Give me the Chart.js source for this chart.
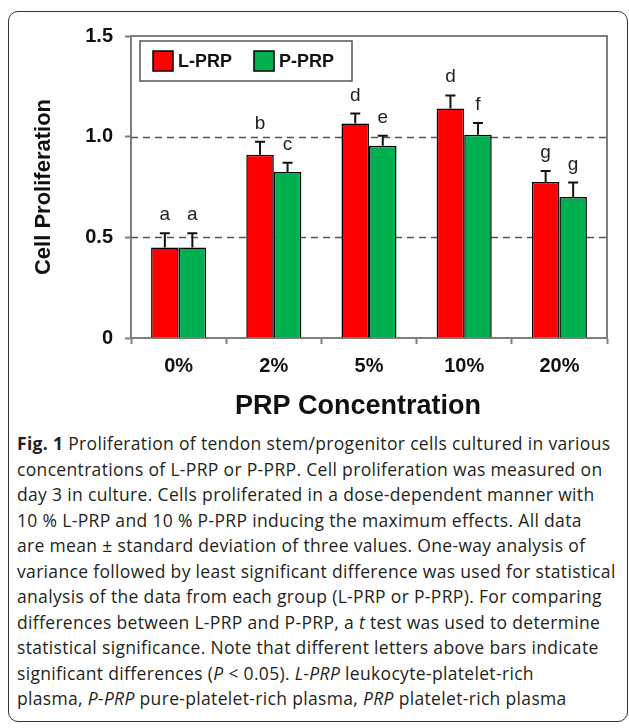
<!DOCTYPE html>
<html>
<head>
<meta charset="utf-8">
<script src="https://cdn.jsdelivr.net/npm/chart.js@4.4.0/dist/chart.umd.min.js"></script>
<style>
  html, body { margin: 0; padding: 0; background: #fff; }
  body { width: 629px; height: 728px; position: relative; overflow: hidden; }
  #frame {
    position: absolute; left: 8px; top: 11px; width: 620px; height: 711px;
    border: 1.5px solid #333; border-radius: 10px; box-sizing: border-box;
  }
  #chartBox { position: absolute; left: 0; top: 0; width: 629px; height: 420px; }
  #caption {
    position: absolute; left: 17px; top: 431px;
    font-family: "Open Sans", sans-serif; font-size: 17.5px; line-height: 25.5px;
    letter-spacing: 0.33px; color: #231f20; white-space: nowrap;
  }
  #caption b { font-weight: 700; }
</style>
</head>
<body>
<div id="frame"></div>
<div id="chartBox"><canvas id="cellChart" width="629" height="420"></canvas></div>
<div id="caption">
  <div><b>Fig. 1</b> Proliferation of tendon stem/progenitor cells cultured in various</div>
  <div>concentrations of L-PRP or P-PRP. Cell proliferation was measured on</div>
  <div>day 3 in culture. Cells proliferated in a dose-dependent manner with</div>
  <div>10 % L-PRP and 10 % P-PRP inducing the maximum effects. All data</div>
  <div>are mean ± standard deviation of three values. One-way analysis of</div>
  <div>variance followed by least significant difference was used for statistical</div>
  <div>analysis of the data from each group (L-PRP or P-PRP). For comparing</div>
  <div>differences between L-PRP and P-PRP, a <i>t</i> test was used to determine</div>
  <div>statistical significance. Note that different letters above bars indicate</div>
  <div>significant differences (<i>P</i> &lt; 0.05). <i>L-PRP</i> leukocyte-platelet-rich</div>
  <div>plasma, <i>P-PRP</i> pure-platelet-rich plasma, <i>PRP</i> platelet-rich plasma</div>
</div>
<script>
// dados
const categorias = ["0%", "2%", "5%", "10%", "20%"];
const valoresL = [0.45, 0.91, 1.065, 1.14, 0.775];
const valoresP = [0.45, 0.825, 0.955, 1.01, 0.70];
const desvioL = [0.07, 0.065, 0.05, 0.065, 0.055];
const desvioP = [0.07, 0.045, 0.05, 0.058, 0.072];
const letrasL = ["a", "b", "d", "d", "g"];
const letrasP = ["a", "c", "e", "f", "g"];
const linhasTracejadas = [0.5, 1.0];
const tituloX = "PRP Concentration";

const corL = "#ff0000";
const corP = "#00b050";
const cinza = "#7f7f7f";
const fonte = "Arial, 'Liberation Sans', sans-serif";

let ctx = document.getElementById("cellChart").getContext("2d");

const extras = {
  id: "extras",
  beforeDatasetsDraw(chart) {
    const { ctx, chartArea, scales } = chart;
    const y = scales.y;
    ctx.save();
    // linhas tracejadas
    ctx.strokeStyle = "#555";
    ctx.lineWidth = 1.5;
    ctx.setLineDash([7, 5]);
    linhasTracejadas.forEach((v) => {
      const py = Math.round(y.getPixelForValue(v)) + 0.5;
      ctx.beginPath();
      ctx.moveTo(chartArea.left, py);
      ctx.lineTo(chartArea.right, py);
      ctx.stroke();
    });
    // moldura de cima e da direita
    ctx.setLineDash([]);
    ctx.strokeStyle = cinza;
    ctx.lineWidth = 2;
    ctx.beginPath();
    ctx.moveTo(chartArea.left, chartArea.top);
    ctx.lineTo(chartArea.right, chartArea.top);
    ctx.lineTo(chartArea.right, chartArea.bottom);
    ctx.stroke();
    ctx.restore();
  },
  afterDatasetsDraw(chart) {
    const { ctx, scales } = chart;
    const y = scales.y;
    const desvios = [desvioL, desvioP];
    const letras = [letrasL, letrasP];
    ctx.save();
    chart.data.datasets.forEach((ds, i) => {
      const meta = chart.getDatasetMeta(i);
      meta.data.forEach((bar, j) => {
        const topo = y.getPixelForValue(ds.data[j] + desvios[i][j]);
        ctx.strokeStyle = "#111";
        ctx.lineWidth = 2;
        ctx.beginPath();
        ctx.moveTo(bar.x, bar.y);
        ctx.lineTo(bar.x, topo);
        ctx.moveTo(bar.x - 5, topo);
        ctx.lineTo(bar.x + 5, topo);
        ctx.stroke();
        ctx.fillStyle = "#222";
        ctx.font = "19px " + fonte;
        ctx.textAlign = "center";
        ctx.textBaseline = "alphabetic";
        ctx.fillText(letras[i][j], bar.x, topo - 13);
      });
    });
    ctx.restore();
  },
  afterDraw(chart) {
    const { ctx, chartArea } = chart;
    ctx.save();
    // título do eixo x
    ctx.fillStyle = "#111";
    ctx.font = "bold 27px " + fonte;
    ctx.textAlign = "center";
    ctx.textBaseline = "middle";
    ctx.fillText(tituloX, (chartArea.left + chartArea.right) / 2 - 11, chartArea.bottom + 69);

    // legenda dentro do gráfico
    const x0 = chartArea.left + 9;
    const y0 = chartArea.top + 5;
    ctx.strokeStyle = "#555";
    ctx.lineWidth = 1.5;
    ctx.strokeRect(x0, y0, 212, 40);
    ctx.font = "bold 18px " + fonte;
    ctx.textAlign = "left";
    let px = x0 + 13;
    chart.data.datasets.forEach((ds) => {
      ctx.fillStyle = ds.backgroundColor;
      ctx.fillRect(px, y0 + 10, 20, 20);
      ctx.strokeStyle = "#000";
      ctx.lineWidth = 1.5;
      ctx.strokeRect(px, y0 + 10, 20, 20);
      ctx.fillStyle = "#111";
      ctx.fillText(ds.label, px + 25, y0 + 21);
      px += 101;
    });
    ctx.restore();
  },
};

let myChart = new Chart(ctx, {
  type: "bar",
  data: {
    labels: categorias,
    datasets: [
      {
        label: "L-PRP",
        data: valoresL,
        backgroundColor: corL,
        borderColor: "#000",
        borderWidth: 1.5,
        categoryPercentage: 0.578,
        barPercentage: 1,
      },
      {
        label: "P-PRP",
        data: valoresP,
        backgroundColor: corP,
        borderColor: "#000",
        borderWidth: 1.5,
        categoryPercentage: 0.578,
        barPercentage: 1,
      },
    ],
  },
  options: {
    responsive: false,
    animation: false,
    layout: { padding: { left: 27, right: 22, top: 36, bottom: 0 } },
    plugins: {
      legend: { display: false },
      tooltip: { enabled: false },
    },
    scales: {
      x: {
        afterFit(axis) {
          axis.height = 82;
        },
        grid: {
          drawOnChartArea: false,
          drawTicks: true,
          tickLength: 6,
          tickWidth: 2,
          tickColor: cinza,
          offset: true,
        },
        border: { display: true, color: cinza, width: 2 },
        ticks: {
          color: "#111",
          padding: 10,
          font: { family: fonte, size: 20, weight: "bold" },
        },
      },
      y: {
        min: 0,
        max: 1.5,
        afterFit(axis) {
          axis.width = 104;
        },
        grid: {
          drawOnChartArea: false,
          drawTicks: true,
          tickLength: 6,
          tickWidth: 2,
          tickColor: cinza,
        },
        border: { display: true, color: cinza, width: 2 },
        ticks: {
          stepSize: 0.5,
          color: "#111",
          padding: 12,
          font: { family: fonte, size: 20, weight: "bold" },
          callback: (v) => (v === 0 ? "0" : v.toFixed(1)),
        },
        title: {
          display: true,
          text: "Cell Proliferation",
          color: "#111",
          padding: { top: 4, bottom: 4 },
          font: { family: fonte, size: 22, weight: "bold" },
        },
      },
    },
  },
  plugins: [extras],
});
</script>
</body>
</html>
